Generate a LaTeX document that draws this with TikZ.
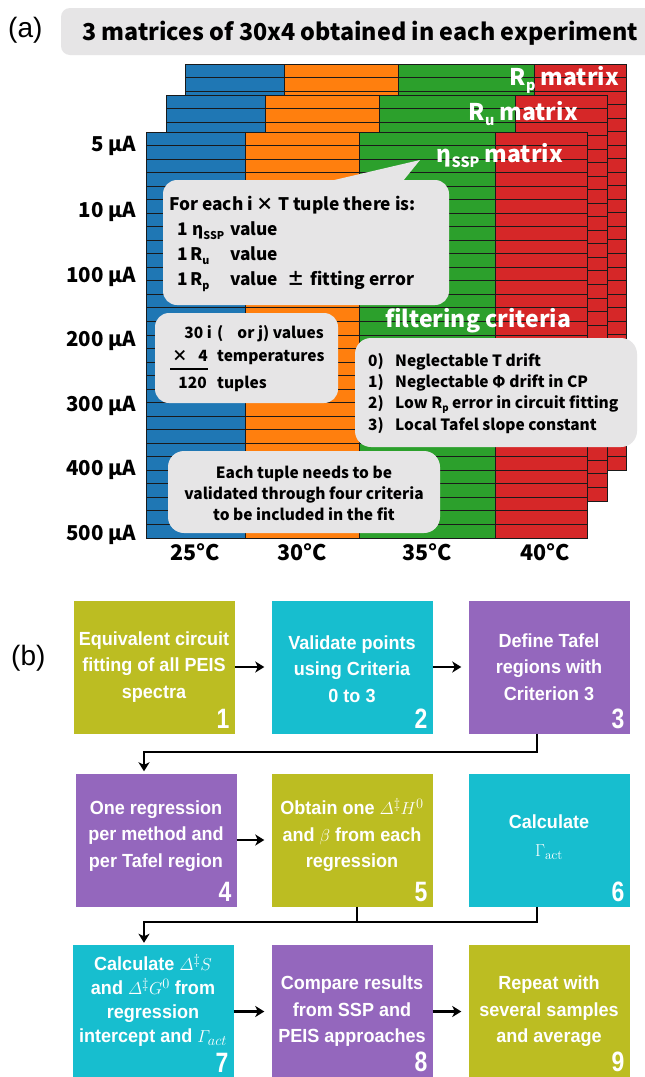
\documentclass[tikz,border=0pt]{standalone}
\usepackage{fontspec}
\usepackage{amsmath}
\usetikzlibrary{arrows.meta}
\newfontfamily\nsans{Noto Sans CJK JP}
\newfontfamily\narrowf[FakeStretch=0.95]{Liberation Sans}
\newfontfamily\digitf[FakeStretch=0.82]{Liberation Sans}
\newfontfamily\labf{Liberation Sans}
\definecolor{cblue}{HTML}{1F77B4}
\definecolor{corange}{HTML}{FF7F0E}
\definecolor{cgreen}{HTML}{2CA02C}
\definecolor{cred}{HTML}{D62728}
\definecolor{bubg}{HTML}{E6E5E6}
\definecolor{colive}{HTML}{BCBD22}
\definecolor{ccyan}{HTML}{17BECF}
\definecolor{cpurple}{HTML}{9467BD}
\definecolor{gline}{HTML}{1A1A1A}
\newcommand\lsub[1]{\raisebox{-0.25em}{\scalebox{0.62}{#1}}}
\newcommand\drawmatrix[2]{%
\begin{scope}[shift={(#1,#2)}]
\fill[cblue] (146,132) rectangle (245,538);
\fill[corange] (245,132) rectangle (359,538);
\fill[cgreen] (359,132) rectangle (495,538);
\fill[cred] (495,132) rectangle (587,538);
\foreach \k in {1,...,29}{\draw[gridl] (146,132+\k*13.5333) -- (587,132+\k*13.5333);}
\draw[gridl] (245,132) -- (245,538) (359,132) -- (359,538) (495,132) -- (495,538);
\draw[gridl] (146,132) rectangle (587,538);
\end{scope}}
\begin{document}
\begin{tikzpicture}[x=1pt,y=-1pt,
  gridl/.style={draw=gline,line width=0.9pt},
  mlab/.style={text=white,font=\nsans\bfseries\fontsize{23}{26}\selectfont,inner sep=0},
  btxt/.style={font=\nsans\bfseries\fontsize{17.3}{20}\selectfont,inner sep=0,anchor=base west},
  ctxt/.style={font=\nsans\bfseries\fontsize{15.5}{21}\selectfont,inner sep=0,anchor=base west},
  ylab/.style={font=\nsans\bfseries\fontsize{20.5}{22}\selectfont,inner sep=0,anchor=base east},
  tlab/.style={font=\nsans\bfseries\fontsize{21.5}{24}\selectfont,inner sep=0,anchor=base},
  plab/.style={font=\labf\fontsize{28}{32}\selectfont,inner sep=0,anchor=west},
  pbox/.style={minimum width=161pt,minimum height=133pt,inner sep=0},
  ptext/.style={inner sep=0,text=white,align=center,font=\narrowf\bfseries\fontsize{19}{26.5}\selectfont},
  num/.style={text=white,inner sep=0,anchor=south east,font=\digitf\bfseries\fontsize{28}{30}\selectfont},
  arr/.style={-{Stealth[length=9pt,width=11pt,inset=2.5pt]},line width=2.6pt,draw=black},
  conn/.style={line width=2.6pt,draw=black}]
\useasboundingbox (0,0) rectangle (645,1077);
\fill[white] (0,0) rectangle (645,1077);

% ---------- (a) ----------
\node[plab] (pa) at (8,30) {(a)};
\fill[bubg,rounded corners=9pt] (61,8) rectangle (680,55);
\node[inner sep=0,anchor=base west,font=\nsans\bfseries\fontsize{23.3}{26}\selectfont] (title) at (82,40) {3 matrices of 30x4 obtained in each experiment};

\drawmatrix{39.5}{-68}
\drawmatrix{20}{-37}
\drawmatrix{0}{0}

\node[mlab,anchor=base east] (rplab) at (619,85) {R\lsub{p} matrix};
\node[mlab,anchor=base east] (rulab) at (578,120) {R\lsub{u} matrix};
\node[mlab,anchor=base east] (etalab) at (563,162) {η\lsub{SSP} matrix};

% current labels
\node[ylab] (i1) at (136,151) {5 µA};
\node[ylab] (i2) at (136,217) {10 µA};
\node[ylab] (i3) at (136,282) {100 µA};
\node[ylab] (i4) at (136,346.5) {200 µA};
\node[ylab] (i5) at (136,411) {300 µA};
\node[ylab] (i6) at (136,475) {400 µA};
\node[ylab] (i7) at (136,540) {500 µA};
% temperature labels
\node[tlab] (t1) at (195,560) {25°C};
\node[tlab] (t2) at (302,560) {30°C};
\node[tlab] (t3) at (427,560) {35°C};
\node[tlab] (t4) at (545,560) {40°C};

% callout
\fill[bubg,rounded corners=14pt] (163,180) rectangle (449,305);
\fill[bubg] (330,181) -- (420,160) -- (403,181) -- cycle;
\node[btxt] (c1) at (169,210) {For each i × T tuple there is:};
\node[btxt] (c2) at (177,235) {\makebox[15pt][l]{1}\makebox[38pt][l]{η\lsub{SSP}}value};
\node[btxt] (c3) at (177,260) {\makebox[13pt][l]{1}\makebox[40pt][l]{R\lsub{u}}value};
\node[btxt] (c4) at (177,285) {\makebox[13pt][l]{1}\makebox[40pt][l]{R\lsub{p}}value\hspace{9pt}±\hspace{6pt}fitting error};

% tuples bubble
\fill[bubg,rounded corners=14pt] (155,313) rectangle (338,403);
\node[ctxt,anchor=base east] (u1) at (212,338) {30 i};
\node[ctxt] (u2) at (217,338) {(\hspace{14pt}or j) values};
\node[ctxt] (u3) at (172,361) {×};
\node[ctxt,anchor=base east] (u4) at (208,361) {4};
\node[ctxt] (u5) at (217,361) {temperatures};
\draw[line width=2pt] (170,369) -- (208,369);
\node[ctxt,anchor=base east] (u6) at (207,388) {120};
\node[ctxt] (u7) at (217,388) {tuples};

% filtering criteria
\node[mlab,anchor=base west] (filt) at (385,327) {filtering criteria};
\fill[bubg,rounded corners=16pt] (355,338) rectangle (637,447);
\node[ctxt] (k0) at (368,366) {0)};
\node[ctxt] (k1) at (368,387) {1)};
\node[ctxt] (k2) at (368,408) {2)};
\node[ctxt] (k3) at (368,430) {3)};
\node[ctxt] (f0) at (395,366) {Neglectable T drift};
\node[ctxt] (f1) at (395,387) {Neglectable Φ drift in CP};
\node[ctxt] (f2) at (395,408) {Low R\lsub{p} error in circuit fitting};
\node[ctxt] (f3) at (395,430) {Local Tafel slope constant};

% validation bubble
\fill[bubg,rounded corners=16pt] (168,451) rectangle (440,533);
\node[ctxt,anchor=center,align=center] (val) at (304,493) {Each tuple needs to be\\validated through four criteria\\to be included in the fit};

% ---------- (b) ----------
\node[plab] (pb) at (11,658) {(b)};
\node[pbox,fill=colive] (b1) at (154,667) {};
\node[pbox,fill=ccyan] (b2) at (352,667) {};
\node[pbox,fill=cpurple] (b3) at (549,667) {};
\node[pbox,fill=cpurple] (b4) at (156,840) {};
\node[pbox,fill=colive] (b5) at (352,840) {};
\node[pbox,fill=ccyan] (b6) at (549,840) {};
\node[pbox,fill=ccyan] (b7) at (153,1011.5) {};
\node[pbox,fill=cpurple] (b8) at (352,1011.5) {};
\node[pbox,fill=colive] (b9) at (549,1011.5) {};

\node[ptext] (b1t) at (b1.center) {Equivalent circuit\\fitting of all PEIS\\spectra};
\node[ptext] (b2t) at ([yshift=-2pt]b2.center) {Validate points\\using Criteria\\0 to 3};
\node[ptext] (b3t) at (b3.center) {Define Tafel\\regions with\\Criterion 3};
\node[ptext] (b4t) at ([yshift=4pt]b4.center) {One regression\\per method and\\per Tafel region};
\node[ptext] (b5t) at ([yshift=5pt]b5.center) {Obtain one $\varDelta^{\ddagger}H^{0}$\\and $\beta$ from each\\regression};
\node[ptext] (b6t) at ([yshift=3pt]b6.center) {Calculate\\[2pt]$\Gamma_{\mathrm{act}}$};
\node[ptext,font=\narrowf\bfseries\fontsize{19}{24}\selectfont] (b7t) at ([yshift=11pt]b7.center) {Calculate $\varDelta^{\ddagger}S$\\and $\varDelta^{\ddagger}G^{0}$ from\\regression\\intercept and $\varGamma_{act}$};
\node[ptext] (b8t) at (b8.center) {Compare results\\from SSP and\\PEIS approaches};
\node[ptext] (b9t) at (b9.center) {Repeat with\\several samples\\and average};

\node[num] (n1) at ([shift={(-5,-5)}]b1.south east) {1};
\node[num] (n2) at ([shift={(-5,-5)}]b2.south east) {2};
\node[num] (n3) at ([shift={(-5,-5)}]b3.south east) {3};
\node[num] (n4) at ([shift={(-5,-5)}]b4.south east) {4};
\node[num] (n5) at ([shift={(-5,-5)}]b5.south east) {5};
\node[num] (n6) at ([shift={(-5,-5)}]b6.south east) {6};
\node[num] (n7) at ([shift={(-5,-6)}]b7.south east) {7};
\node[num] (n8) at ([shift={(-5,-6)}]b8.south east) {8};
\node[num] (n9) at ([shift={(-5,-6)}]b9.south east) {9};

\draw[arr,shorten >=7pt] (b1.east) -- (b2.west);
\draw[arr,shorten >=7pt] (b2.east) -- (b3.west);
\draw[arr,shorten >=7pt] (b4.east) -- (b5.west);
\draw[arr,shorten >=7pt] (b7.east) -- (b8.west);
\draw[arr,shorten >=7pt] (b8.east) -- (b9.west);

\coordinate (j1) at (144,752);
\coordinate (j2) at (144,922);
\draw[arr,shorten >=2pt] ([xshift=-12pt]b3.south) |- (j1) -- ([xshift=-12pt]b4.north);
\draw[conn] ([xshift=5pt]b5.south) |- (j2);
\draw[arr,shorten >=2pt] ([xshift=-12pt]b6.south) |- (j2) -- ([xshift=-9pt]b7.north);
\end{tikzpicture}
\end{document}
